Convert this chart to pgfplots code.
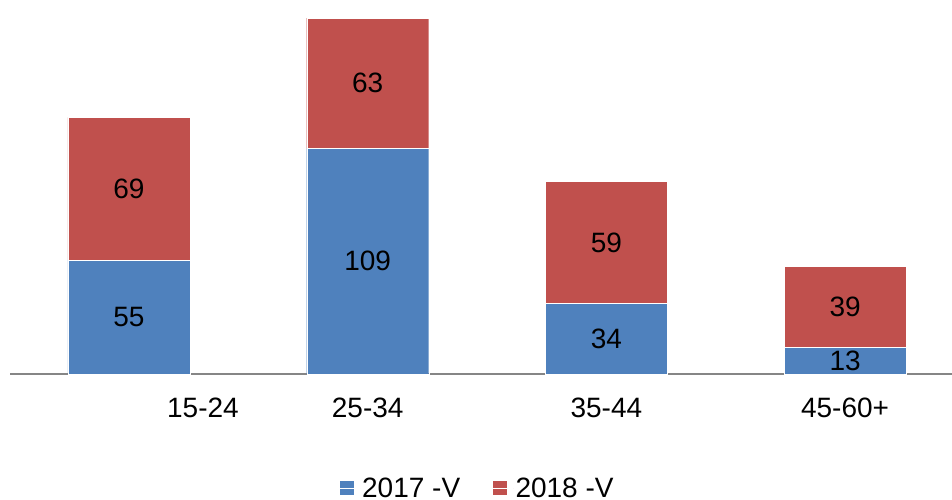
\documentclass[border=0pt]{standalone}
\usepackage{pgfplots}
\pgfplotsset{compat=1.18}
\usepackage{fontspec}
\setmainfont{Liberation Sans}
\definecolor{cblue}{HTML}{4F81BD}
\definecolor{cred}{HTML}{C0504D}
\definecolor{axgray}{HTML}{868686}
\begin{document}
\begin{tikzpicture}[x=1pt,y=1pt]
\useasboundingbox (0,0) rectangle (952,499);
\begin{axis}[
  at={(10pt,125pt)}, anchor=south west,
  scale only axis, width=942pt, height=374pt,
  ybar stacked, bar width=122pt,
  xmin=-0.4985, xmax=3.448, ymin=0, ymax=180.7,
  axis y line=none,
  axis x line*=bottom,
  x axis line style={-, axgray, line width=1.5pt},
  xtick={0.31,1,2,3},
  xticklabels={15-24,25-34,35-44,45-60+},
  major tick length=0pt,
  xticklabel style={anchor=center, yshift=-34pt, font=\fontsize{28}{32}\selectfont},
  clip=false,
  visualization depends on=rawy \as \rawy,
  nodes near coords={\pgfmathprintnumber{\rawy}},
  nodes near coords style={anchor=center, font=\fontsize{28}{32}\selectfont, text=black, /pgf/number format/assume math mode=true},
  legend style={at={(0.496,-0.305)}, anchor=center, draw=none, legend columns=2,
    font=\fontsize{28}{32}\selectfont,
    /tikz/every even column/.append style={column sep=30pt}},
  legend image code/.code={\fill[#1] (0pt,-7.5pt) rectangle (15pt,7.5pt); \path (0pt,0pt) -- (21pt,0pt);},
]
\addplot[fill=cblue, draw=white, line width=0.3pt] coordinates {(0,55) (1,109) (2,34) (3,13)};
\addplot[fill=cred, draw=white, line width=0.3pt] coordinates {(0,69) (1,63) (2,59) (3,39)};
\legend{2017 -V, 2018 -V}
\end{axis}
\end{tikzpicture}
\end{document}
